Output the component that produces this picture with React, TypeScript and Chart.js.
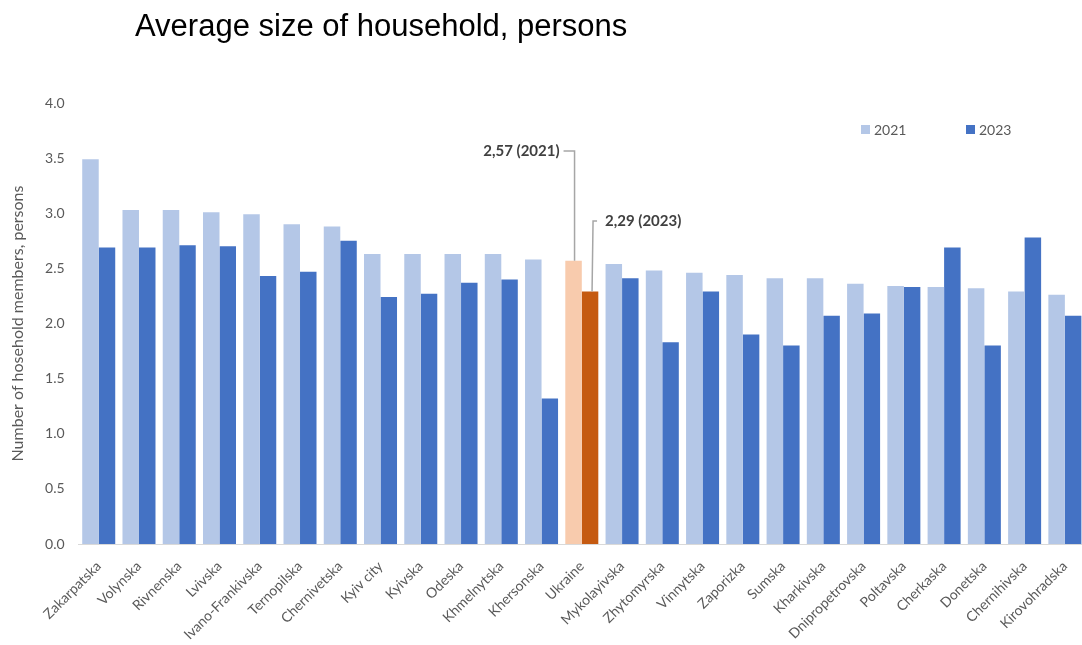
import React, { useEffect, useRef } from "react";
import { Chart, registerables } from "chart.js";
Chart.register(...registerables);

const categories = [
  "Zakarpatska", "Volynska", "Rivnenska", "Lvivska", "Ivano-Frankivska", "Ternopilska",
  "Chernivetska", "Kyiv city", "Kyivska", "Odeska", "Khmelnytska", "Khersonska", "Ukraine",
  "Mykolayivska", "Zhytomyrska", "Vinnytska", "Zaporizka", "Sumska", "Kharkivska",
  "Dnipropetrovska", "Poltavska", "Cherkaska", "Donetska", "Chernihivska", "Kirovohradska",
];
const values2021 = [
  3.49, 3.03, 3.03, 3.01, 2.99, 2.90, 2.88, 2.63, 2.63, 2.63, 2.63, 2.58, 2.57,
  2.54, 2.48, 2.46, 2.44, 2.41, 2.41, 2.36, 2.34, 2.33, 2.32, 2.29, 2.26,
];
const values2023 = [
  2.69, 2.69, 2.71, 2.70, 2.43, 2.47, 2.75, 2.24, 2.27, 2.37, 2.40, 1.32, 2.29,
  2.41, 1.83, 2.29, 1.90, 1.80, 2.07, 2.09, 2.33, 2.69, 1.80, 2.78, 2.07,
];
const seriesLabels = ["2021", "2023"];
const highlightCategory = "Ukraine";
const titleText = "Average size of household, persons";
const yAxisTitle = "Number of hosehold members, persons";

const COLORS = {
  light: "#b4c7e7",
  dark: "#4472c4",
  hlLight: "#f8cbad",
  hlDark: "#c55a11",
  text: "#595959",
  annot: "#404040",
  leader: "#a6a6a6",
  axis: "#d9d9d9",
};
const FONT = "Lato";

const fmt = (v: number) => v.toFixed(2).replace(".", ",");

const overlayPlugin = {
  id: "overlay",
  afterDraw(chart: any) {
    const ctx = chart.ctx;
    ctx.save();
    // legend
    const legendItems = [
      { label: seriesLabels[0], color: COLORS.light, x: 861 },
      { label: seriesLabels[1], color: COLORS.dark, x: 966 },
    ];
    ctx.font = `14px ${FONT}`;
    ctx.textBaseline = "middle";
    ctx.textAlign = "left";
    legendItems.forEach((it) => {
      ctx.fillStyle = it.color;
      ctx.fillRect(it.x, 125, 9, 9);
      ctx.fillStyle = COLORS.text;
      ctx.fillText(it.label, it.x + 13, 130);
    });

    // annotations
    const idx = categories.indexOf(highlightCategory);
    const b1 = chart.getDatasetMeta(0).data[idx];
    const b2 = chart.getDatasetMeta(1).data[idx];
    ctx.strokeStyle = COLORS.leader;
    ctx.lineWidth = 1.5;
    ctx.font = `bold 15px ${FONT}`;
    ctx.fillStyle = COLORS.annot;

    const y1 = 151;
    const x1 = b1.x + 1;
    ctx.beginPath();
    ctx.moveTo(x1 - 11, y1);
    ctx.lineTo(x1, y1);
    ctx.lineTo(x1, b1.y);
    ctx.stroke();
    ctx.textAlign = "right";
    ctx.fillText(`${fmt(values2021[idx])} (${seriesLabels[0]})`, x1 - 15, y1);

    const y2 = 221;
    const x2 = b2.x + 3;
    ctx.beginPath();
    ctx.moveTo(x2 + 4, y2);
    ctx.lineTo(x2, y2);
    ctx.lineTo(x2 - 1, b2.y);
    ctx.stroke();
    ctx.textAlign = "left";
    ctx.fillText(`${fmt(values2023[idx])} (${seriesLabels[1]})`, x2 + 12, y2);
    ctx.restore();
  },
};

export default function App() {
  const ref = useRef<HTMLCanvasElement>(null);
  useEffect(() => {
    if (!ref.current) return;
    const c1 = categories.map((c) => (c === highlightCategory ? COLORS.hlLight : COLORS.light));
    const c2 = categories.map((c) => (c === highlightCategory ? COLORS.hlDark : COLORS.dark));
    const chart = new Chart(ref.current, {
      type: "bar",
      data: {
        labels: categories,
        datasets: [
          { label: seriesLabels[0], data: values2021, backgroundColor: c1, borderWidth: 0 },
          { label: seriesLabels[1], data: values2023, backgroundColor: c2, borderWidth: 0 },
        ],
      },
      options: {
        responsive: false,
        animation: false,
        devicePixelRatio: 1,
        layout: { padding: { top: 103, left: 0, right: 0, bottom: 0 } },
        datasets: { bar: { categoryPercentage: 0.82, barPercentage: 1 } },
        plugins: { legend: { display: false }, title: { display: false }, tooltip: { enabled: false } },
        scales: {
          x: {
            grid: { display: false, drawTicks: false },
            border: { display: true, color: COLORS.axis, width: 1 },
            ticks: {
              autoSkip: false,
              minRotation: 45,
              maxRotation: 45,
              padding: 14,
              color: COLORS.text,
              font: { family: FONT, size: 14 },
            },
            afterFit: (s: any) => {
              s.height = 101;
              s.paddingRight = 0;
              s.paddingLeft = 0;
            },
          },
          y: {
            min: 0,
            max: 4,
            grid: { display: false, drawTicks: false },
            border: { display: false },
            ticks: {
              stepSize: 0.5,
              padding: 14,
              color: COLORS.text,
              font: { family: FONT, size: 14 },
              callback: (v: any) => Number(v).toFixed(1),
            },
            title: {
              display: true,
              text: yAxisTitle,
              color: COLORS.text,
              font: { family: FONT, size: 16 },
              padding: { top: 8, bottom: 0 },
            },
            afterFit: (s: any) => { s.width = 78.6; },
          },
        },
      },
      plugins: [overlayPlugin],
    });
    return () => chart.destroy();
  }, []);

  return (
    <div style={{ position: "fixed", left: 0, top: 0, width: 1082, height: 645, overflow: "hidden", background: "#fff" }}>
      <div
        style={{
          position: "absolute",
          left: 135,
          top: 10,
          fontFamily: "'Liberation Sans', Arial, sans-serif",
          fontSize: 31,
          lineHeight: "31px",
          color: "#000",
          whiteSpace: "nowrap",
          zIndex: 1,
        }}
      >
        {titleText}
      </div>
      <canvas ref={ref} width={1085} height={645} style={{ display: "block", width: 1085, height: 645 }} />
    </div>
  );
}
